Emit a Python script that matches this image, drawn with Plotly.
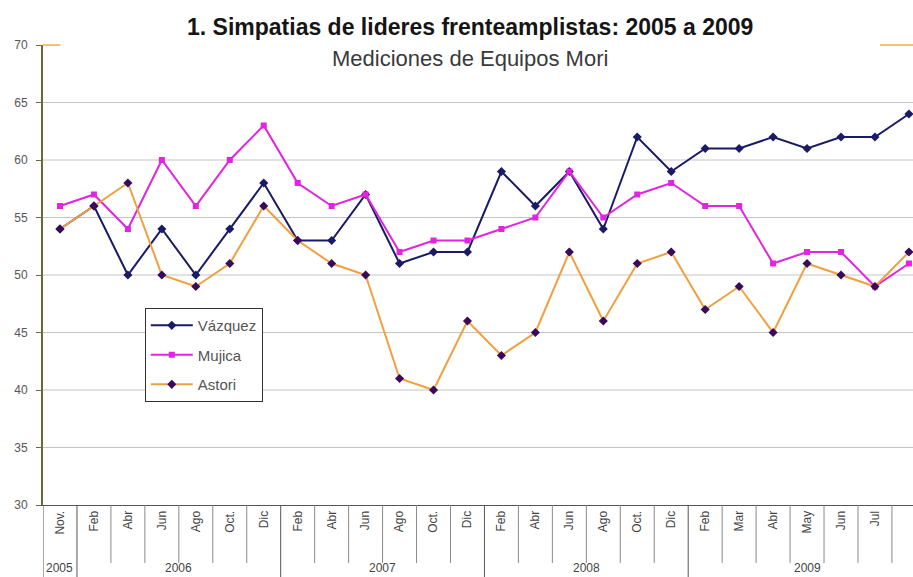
import plotly.graph_objects as go

months = ["Nov.", "Feb", "Abr", "Jun", "Ago", "Oct.", "Dic",
          "Feb", "Abr", "Jun", "Ago", "Oct.", "Dic",
          "Feb", "Abr", "Jun", "Ago", "Oct.", "Dic",
          "Feb", "Mar", "Abr", "May", "Jun", "Jul", "Ago"]
years = ["2005", "2006", "2007", "2008", "2009"]
year_counts = [1, 6, 6, 6, 7]

vazquez = [54, 56, 50, 54, 50, 54, 58, 53, 53, 57, 51, 52, 52,
           59, 56, 59, 54, 62, 59, 61, 61, 62, 61, 62, 62, 64]
mujica = [56, 57, 54, 60, 56, 60, 63, 58, 56, 57, 52, 53, 53,
          54, 55, 59, 55, 57, 58, 56, 56, 51, 52, 52, 49, 51]
astori = [54, 56, 58, 50, 49, 51, 56, 53, 51, 50, 41, 40, 46,
          43, 45, 52, 46, 51, 52, 47, 49, 45, 51, 50, 49, 52]

y_ticks = [30, 35, 40, 45, 50, 55, 60, 65, 70]
grid_vals = [35, 40, 45, 50, 55, 60, 65]

FONT = "Arial, Liberation Sans, sans-serif"
xs = list(range(len(months)))

fig = go.Figure()
fig.add_trace(go.Scatter(x=xs, y=vazquez, name="Vázquez", mode="lines+markers", legendgroup="v",
                         line=dict(color="#1a1a66", width=2),
                         marker=dict(symbol="diamond", size=7, color="#1a1a66")))
fig.add_trace(go.Scatter(x=xs, y=mujica, name="Mujica", mode="lines+markers", legendgroup="m",
                         line=dict(color="#e024e0", width=2),
                         marker=dict(symbol="square", size=6, color="#e024e0")))
fig.add_trace(go.Scatter(x=xs, y=astori, name="Astori", mode="lines+markers", legendgroup="a",
                         line=dict(color="#f0a040", width=2),
                         marker=dict(symbol="diamond", size=7, color="#3a0a5a")))

shapes = []
for g in grid_vals:
    shapes.append(dict(type="line", xref="paper", yref="y", x0=0, x1=1, y0=g, y1=g,
                       line=dict(color="#c4c4c4", width=1), layer="below"))
# category separators below the axis
bounds = [0]
for c in year_counts:
    bounds.append(bounds[-1] + c)
for i in range(len(months) + 1):
    is_year = i in bounds
    shapes.append(dict(type="line", xref="x", yref="paper", x0=i - 0.5, x1=i - 0.5,
                       y0=0, y1=-0.2 if is_year else -0.126,
                       line=dict(color="#555555" if is_year else "#8a8a8a", width=1)))
# small orange dashes at top
shapes.append(dict(type="line", xref="paper", yref="paper", x0=0.0, x1=0.02, y0=1.0, y1=1.0,
                   line=dict(color="#f5c070", width=2)))
shapes.append(dict(type="line", xref="paper", yref="paper", x0=0.962, x1=1.0, y0=1.0, y1=1.0,
                   line=dict(color="#f5c070", width=2)))

annotations = [
    dict(text="<b>1. Simpatias de lideres frenteamplistas: 2005 a 2009</b>", xref="paper", yref="paper",
         x=0.491, y=1.0, yanchor="middle", yshift=18, showarrow=False,
         font=dict(family=FONT, size=23, color="#151515")),
    dict(text="Mediciones de Equipos Mori", xref="paper", yref="paper",
         x=0.491, y=1.0, yanchor="middle", yshift=-13, showarrow=False,
         font=dict(family=FONT, size=22, color="#3a3a3a")),
]
for k, (yr, c) in enumerate(zip(years, year_counts)):
    center = (bounds[k] + bounds[k + 1] - 1) / 2
    annotations.append(dict(text=yr, xref="x", yref="paper", x=center, y=-0.156, yanchor="bottom",
                            showarrow=False, font=dict(family=FONT, size=12, color="#444444")))

fig.update_layout(
    width=913, height=577,
    margin=dict(l=43, r=0, t=45, b=72),
    paper_bgcolor="white", plot_bgcolor="white",
    font=dict(family=FONT, color="#444444"),
    showlegend=True,
    legend=dict(x=0.117, y=0.428, xanchor="left", yanchor="top",
                bordercolor="#333333", borderwidth=1, bgcolor="white",
                font=dict(family=FONT, size=15, color="#555555"),
                itemwidth=42, tracegroupgap=7, traceorder="grouped"),
    xaxis=dict(range=[-0.5, 25.12], tickmode="array", tickvals=xs, ticktext=months,
               tickangle=-90, tickfont=dict(size=12, color="#444444"),
               showgrid=False, zeroline=False, showline=True, linecolor="#555555",
               linewidth=1, ticks=""),
    yaxis=dict(range=[30, 70], tickmode="array", tickvals=y_ticks,
               tickfont=dict(size=12, color="#555555"), ticklabelstandoff=6,
               showgrid=False, zeroline=False, showline=True, linecolor="#6b6a3e", linewidth=2,
               ticks="outside", ticklen=5, tickcolor="#6b6a3e"),
    shapes=shapes,
    annotations=annotations,
)

fig.write_html("out.html", config={"displayModeBar": False},
               post_script="document.body.style.margin='0px';")
